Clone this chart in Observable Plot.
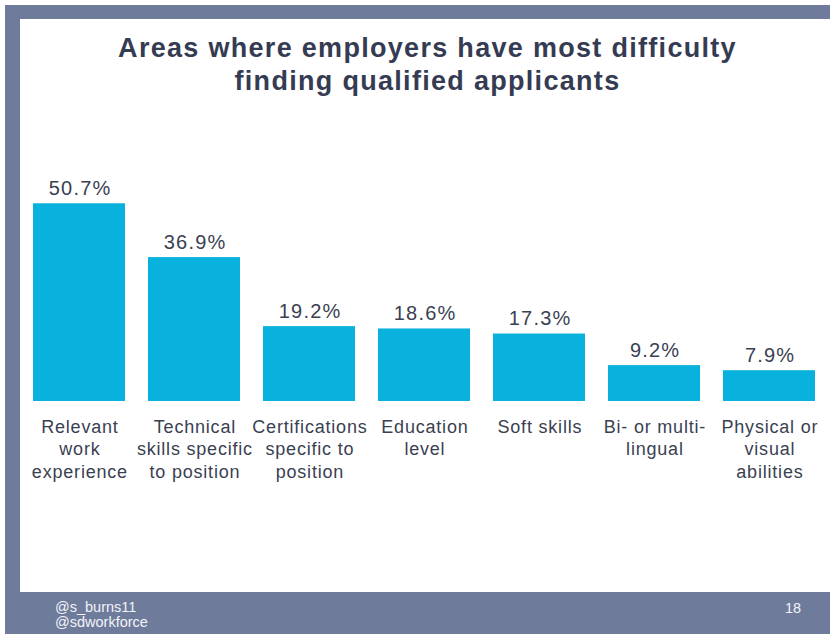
<!DOCTYPE html>
<html>
<head>
<meta charset="utf-8">
<script src="https://cdn.jsdelivr.net/npm/d3@7"></script>
<script src="https://cdn.jsdelivr.net/npm/@observablehq/plot@0.6"></script>
<style>
  html, body { margin: 0; padding: 0; background: #ffffff; }
  body { width: 830px; height: 634px; position: relative; overflow: hidden;
         font-family: "Liberation Sans", Arial, Helvetica, sans-serif; }
  #frame { position: absolute; left: 5px; top: 5px; width: 825px; height: 629px; background: #6e7b9b; }
  #card { position: absolute; left: 20px; top: 19px; width: 810px; height: 573px; background: #ffffff; }
  #title { position: absolute; left: 20px; top: 32px; width: 815px; text-align: center;
           font-size: 27px; line-height: 33px; font-weight: bold; color: #353b52; letter-spacing: 1.3px; }
  #chart { position: absolute; left: 20px; top: 150px; }
  #handles { position: absolute; left: 55px; top: 599.5px; font-size: 14.5px; line-height: 15px; color: #f2f4f8; }
  #page { position: absolute; left: 785px; top: 600.5px; font-size: 14.5px; line-height: 15px; color: #f2f4f8; }
</style>
</head>
<body>
<div id="frame"></div>
<div id="card"></div>
<div id="title">Areas where employers have most difficulty<br>finding qualified applicants</div>
<div id="chart"></div>
<div id="handles">@s_burns11<br>@sdworkforce</div>
<div id="page">18</div>
<script>
const categories = [
  "Relevant work experience",
  "Technical skills specific to position",
  "Certifications specific to position",
  "Education level",
  "Soft skills",
  "Bi- or multi-lingual",
  "Physical or visual abilities"
];
const categoryLabels = [
  "Relevant\nwork\nexperience",
  "Technical\nskills specific\nto position",
  "Certifications\nspecific to\nposition",
  "Education\nlevel",
  "Soft skills",
  "Bi- or multi-\nlingual",
  "Physical or\nvisual\nabilities"
];
const values = [50.7, 36.9, 19.2, 18.6, 17.3, 9.2, 7.9];
const valueLabels = ["50.7%", "36.9%", "19.2%", "18.6%", "17.3%", "9.2%", "7.9%"];

const data = categories.map((c, i) => ({
  category: c, value: values[i], label: valueLabels[i], catLabel: categoryLabels[i]
}));

const chart = Plot.plot({
  width: 810,
  height: 350,
  marginLeft: 0,
  marginRight: 2,
  marginTop: 17,
  marginBottom: 99,
  style: { fontFamily: '"Liberation Sans", Arial, Helvetica, sans-serif', background: "transparent", overflow: "visible" },
  x: { domain: categories, paddingInner: 0.2, paddingOuter: 0.1, axis: null },
  y: { domain: [0, 60], axis: null },
  marks: [
    Plot.barY(data, { x: "category", y: "value", fill: "#08b2dc" }),
    Plot.text(data, { x: "category", y: "value", text: "label", dy: -9, dx: 0.6, lineAnchor: "bottom",
      fontSize: 20, fill: "#3a3f52" }),
    Plot.text(data, { x: "category", y: 0, text: "catLabel", dy: 15.5, dx: 0.4, lineAnchor: "top",
      fontSize: 18, lineHeight: 1.25, fill: "#3a3f52" })
  ]
});
chart.querySelectorAll("g[aria-label='text']").forEach((g, i) => {
  g.style.letterSpacing = i === 0 ? "1.2px" : "0.8px";
});
document.getElementById("chart").appendChild(chart);
</script>
</body>
</html>
